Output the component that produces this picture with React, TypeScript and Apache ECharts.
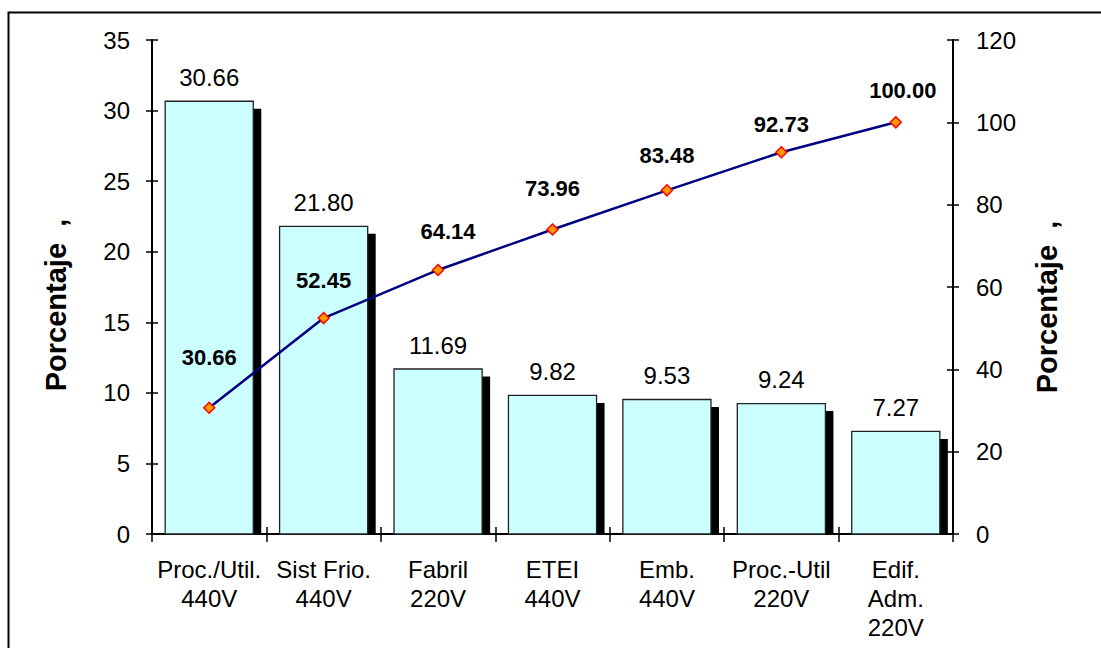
import React, { useEffect, useRef } from "react";
import * as echarts from "echarts";

const categories = [
  "Proc./Util.\n440V",
  "Sist Frio.\n440V",
  "Fabril\n220V",
  "ETEI\n440V",
  "Emb.\n440V",
  "Proc.-Util\n220V",
  "Edif.\nAdm.\n220V",
];
const percentValues = [30.66, 21.8, 11.69, 9.82, 9.53, 9.24, 7.27];
const cumulativeValues = [30.66, 52.45, 64.14, 73.96, 83.48, 92.73, 100.0];
const axisTitle = "Porcentaje  ,";

// label placement tweaks (styling only)
const lineLabelOffsets = [
  [0, -14],
  [0, -1],
  [10, -2],
  [0, -5],
  [0, 1],
  [0, 8],
  [7, 4],
];

const FONT = "'Liberation Sans', Arial, sans-serif";

export default function App() {
  const ref = useRef<HTMLDivElement>(null);
  useEffect(() => {
    if (!ref.current) return;
    const chart = echarts.init(ref.current, null, { renderer: "svg" });
    const axisLineStyle = { color: "#000", width: 2 };
    const option: any = {
      animation: false,
      backgroundColor: "#fff",
      textStyle: { fontFamily: FONT },
      grid: { left: 152, right: 148, top: 40, bottom: 114, containLabel: false },
      xAxis: [
        {
          type: "category",
          data: categories,
          position: "bottom",
          boundaryGap: true,
          axisLine: { show: true, lineStyle: axisLineStyle, onZero: false },
          axisTick: { show: true, length: 8, lineStyle: { color: "#000", width: 1.5 } },
          axisLabel: {
            color: "#000",
            fontSize: 24,
            fontFamily: FONT,
            margin: 21,
            lineHeight: 29,
            interval: 0,
          },
          splitLine: { show: false },
        },
        {
          type: "category",
          data: categories,
          position: "bottom",
          boundaryGap: true,
          axisLine: { show: false },
          axisTick: { show: true, inside: true, length: 7, lineStyle: { color: "#000", width: 1.5 } },
          axisLabel: { show: false },
          splitLine: { show: false },
        },
      ],
      yAxis: [
        {
          type: "value",
          position: "left",
          min: 0,
          max: 35,
          interval: 5,
          axisLine: { show: true, lineStyle: axisLineStyle },
          axisTick: { show: true, length: 6, lineStyle: { color: "#000", width: 1.5 } },
          axisLabel: { color: "#000", fontSize: 24, fontFamily: FONT, margin: 22 },
          splitLine: { show: false },
        },
        {
          type: "value",
          position: "right",
          min: 0,
          max: 120,
          interval: 20,
          axisLine: { show: true, lineStyle: axisLineStyle },
          axisTick: { show: true, length: 6, lineStyle: { color: "#000", width: 1.5 } },
          axisLabel: { color: "#000", fontSize: 24, fontFamily: FONT, margin: 23 },
          splitLine: { show: false },
        },
        {
          type: "value",
          position: "left",
          min: 0,
          max: 35,
          interval: 5,
          axisLine: { show: false },
          axisTick: { show: true, inside: true, length: 6, lineStyle: { color: "#000", width: 1.5 } },
          axisLabel: { show: false },
          splitLine: { show: false },
        },
        {
          type: "value",
          position: "right",
          min: 0,
          max: 120,
          interval: 20,
          axisLine: { show: false },
          axisTick: { show: true, inside: true, length: 6, lineStyle: { color: "#000", width: 1.5 } },
          axisLabel: { show: false },
          splitLine: { show: false },
        },
      ],
      graphic: [
        {
          type: "rect",
          left: 6,
          top: 10,
          shape: { x: 0, y: 0, width: 1200, height: 800 },
          style: { fill: "none", stroke: "#000", lineWidth: 2 },
          silent: true,
          z: 100,
        },
        {
          type: "text",
          x: 56,
          y: 305,
          rotation: Math.PI / 2,
          style: {
            text: axisTitle,
            font: `bold 29px ${FONT}`,
            fill: "#000",
            align: "center",
            verticalAlign: "middle",
          },
        },
        {
          type: "text",
          x: 1047,
          y: 307,
          rotation: Math.PI / 2,
          style: {
            text: axisTitle,
            font: `bold 29px ${FONT}`,
            fill: "#000",
            align: "center",
            verticalAlign: "middle",
          },
        },
      ],
      series: [
        {
          type: "custom",
          xAxisIndex: 0,
          yAxisIndex: 0,
          data: percentValues.map((v, i) => [i, v]),
          encode: { x: 0, y: 1 },
          renderItem: (params: any, api: any) => {
            const idx = api.value(0);
            const v = api.value(1);
            const top = api.coord([idx, v]);
            const base = api.coord([idx, 0]);
            const w = api.size([1, 0])[0] * 0.77;
            const h = base[1] - top[1];
            return {
              type: "group",
              children: [
                {
                  type: "rect",
                  shape: { x: top[0] - w / 2 + 8, y: top[1] + 7.5, width: w, height: h - 7.5 },
                  style: { fill: "#000" },
                },
                {
                  type: "rect",
                  shape: { x: top[0] - w / 2, y: top[1], width: w, height: h },
                  style: { fill: "#CCFFFF", stroke: "#222", lineWidth: 1.3 },
                },
                {
                  type: "text",
                  x: top[0],
                  y: top[1] - 12,
                  style: {
                    text: v.toFixed(2),
                    font: `24px ${FONT}`,
                    fill: "#000",
                    align: "center",
                    verticalAlign: "bottom",
                  },
                },
              ],
            };
          },
          z: 2,
        },
        {
          type: "line",
          xAxisIndex: 0,
          yAxisIndex: 1,
          data: cumulativeValues.map((v, i) => ({
            value: v,
            label: { offset: lineLabelOffsets[i] },
          })),
          symbol: "diamond",
          symbolSize: 11,
          itemStyle: { color: "#FF9900", borderColor: "#FF0000", borderWidth: 1.5 },
          lineStyle: { color: "#000080", width: 2.5 },
          label: {
            show: true,
            position: "top",
            distance: 19,
            color: "#000",
            fontWeight: "bold",
            fontSize: 22,
            fontFamily: FONT,
            formatter: (p: any) => Number(p.value).toFixed(2),
          },
          z: 5,
        },
      ],
    };
    chart.setOption(option);
    return () => chart.dispose();
  }, []);
  return (
    <div
      ref={ref}
      style={{ position: "fixed", left: 0, top: 0, width: 1101, height: 648, background: "#fff" }}
    />
  );
}
